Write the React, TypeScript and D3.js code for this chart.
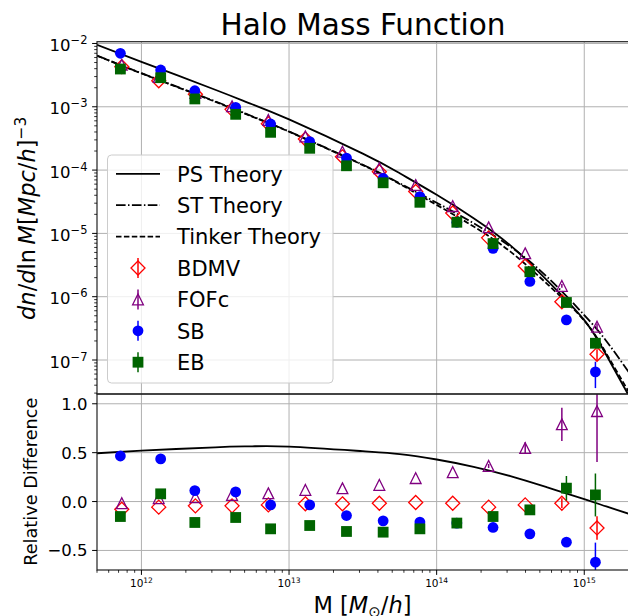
import React from 'react';
import * as d3 from 'd3';

// ---------- data ----------
const massTheory = [5.0e11, 1e12, 3.16e12, 5.62e12, 1e13, 3.16e13, 5.62e13, 1e14, 1.78e14, 3.16e14, 5.62e14, 1e15, 1.41e15, 2e15];
const psTheory = [9.55e-3, 5.13e-3, 1.86e-3, 1.096e-3, 6.31e-4, 1.82e-4, 8.91e-5, 4.07e-5, 1.74e-5, 6.46e-6, 1.8e-6, 4.27e-7, 1.2e-7, 2.75e-8];
const stTheory = [6.46e-3, 3.39e-3, 1.22e-3, 7.08e-4, 4.07e-4, 1.216e-4, 6.17e-5, 3.05e-5, 1.445e-5, 6.17e-6, 2.04e-6, 5.13e-7, 2.0e-7, 6.46e-8];
const tinkerTheory = [6.4e-3, 3.37e-3, 1.2e-3, 7.0e-4, 4.04e-4, 1.2e-4, 6.03e-5, 2.82e-5, 1.285e-5, 5.15e-6, 1.58e-6, 4.2e-7, 1.27e-7, 3.16e-8];
const psRelDiff = [0.494, 0.52, 0.555, 0.565, 0.562, 0.515, 0.485, 0.43, 0.355, 0.26, 0.145, 0.025, -0.05, -0.125];

const massA = [7.36e11, 1.31e12, 2.32e12, 4.11e12, 7.24e12, 1.29e13, 2.3e13, 4.09e13, 7.21e13, 1.285e14, 2.25e14, 3.98e14, 7.05e14, 1.22e15];
const massB = [7.2e11, 1.35e12, 2.3e12, 4.35e12, 7.5e12, 1.38e13, 2.45e13, 4.34e13, 7.7e13, 1.37e14, 2.41e14, 4.28e14, 7.57e14, 1.19e15];

const bdmvHMF = [4.3e-3, 2.57e-3, 1.58e-3, 9.1e-4, 5.4e-4, 3.1e-4, 1.62e-4, 9.4e-5, 4.6e-5, 2.1e-5, 8.5e-6, 3.05e-6, 8.3e-7, 1.23e-7];
const fofcHMF = [4.6e-3, 2.95e-3, 1.66e-3, 1.02e-3, 6.2e-4, 3.4e-4, 1.95e-4, 1.07e-4, 5.8e-5, 2.7e-5, 1.25e-5, 4.85e-6, 1.48e-6, 3.36e-7];
const sbHMF = [7.0e-3, 3.81e-3, 1.79e-3, 9.8e-4, 5.35e-4, 2.81e-4, 1.55e-4, 7.4e-5, 3.8e-5, 1.5e-5, 5.8e-6, 1.74e-6, 4.3e-7, 6.5e-8];
const ebHMF = [3.95e-3, 2.88e-3, 1.33e-3, 7.6e-4, 3.95e-4, 2.21e-4, 1.17e-4, 6.3e-5, 3.1e-5, 1.5e-5, 6.9e-6, 2.48e-6, 8.1e-7, 1.84e-7];

const bdmvHMFErr = [0, 0, 0, 0, 0, 0, 0, 0, 0, 0, 0, 0, 0.4e-7, 0.25e-7];
const fofcHMFErr = [0, 0, 0, 0, 0, 0, 0, 0, 0, 0, 0, 0, 0.1e-6, 0.4e-7];
const sbHMFErr = [0, 0, 0, 0, 0, 0, 0, 0, 0, 0, 0, 0, 0.3e-7, 2.9e-8];
const ebHMFErr = [0, 0, 0, 0, 0, 0, 0, 0, 0, 0, 0, 0, 0.5e-7, 0.2e-7];

const bdmvRel = [-0.078, -0.057, -0.044, -0.044, -0.034, -0.023, -0.023, -0.017, -0.01, -0.017, -0.057, -0.034, -0.017, -0.27];
const fofcRel = [-0.017, 0.035, 0.045, 0.068, 0.085, 0.119, 0.136, 0.17, 0.24, 0.3, 0.364, 0.547, 0.79, 0.925];
const sbRel = [0.466, 0.436, 0.112, 0.099, -0.034, -0.034, -0.143, -0.197, -0.21, -0.22, -0.265, -0.33, -0.415, -0.62];
const ebRel = [-0.153, 0.079, -0.214, -0.163, -0.279, -0.245, -0.306, -0.313, -0.279, -0.22, -0.153, -0.085, 0.137, 0.068];

const bdmvRelErr = [0, 0, 0, 0, 0, 0, 0, 0, 0, 0, 0, 0, 0.05, 0.12];
const fofcRelErr = [0, 0, 0, 0, 0, 0, 0, 0, 0, 0, 0.02, 0.06, 0.17, 0.52];
const sbRelErr = [0, 0, 0, 0, 0, 0, 0, 0, 0, 0, 0, 0.03, 0.05, 0.2];
const ebRelErr = [0, 0, 0, 0, 0, 0, 0, 0, 0, 0, 0, 0.04, 0.125, 0.22];

const yMajorExps = [-2, -3, -4, -5, -6, -7];
const xMajorExps = [12, 13, 14, 15];
const relTicks = [1.0, 0.5, 0.0, -0.5];
const relTickLabels = ['1.0', '0.5', '0.0', '\u22120.5'];

const legendLabels = ['PS Theory', 'ST Theory', 'Tinker Theory', 'BDMV', 'FOFc', 'SB', 'EB'];

// ---------- layout ----------
const W = 628, H = 616;
const X0 = 97, X1 = 628.7;
const UT = 41.7, UB = 394, LB = 570;
const FONT = 'DejaVu Sans, sans-serif';

const x = d3.scaleLog().domain([5e11, 2e15]).range([X0, X1]);
const yU = d3.scaleLog().domain([Math.pow(10, -7.537), Math.pow(10, -1.972)]).range([UB, UT]);
const yL = d3.scaleLinear().domain([-0.7, 1.1]).range([LB, UB]);

type MarkerKind = 'diamond' | 'triangle' | 'circle' | 'square';

function Marker({ kind, cx, cy, color }: { kind: MarkerKind; cx: number; cy: number; color: string }) {
  if (kind === 'circle') return <circle cx={cx} cy={cy} r={5.4} fill={color} />;
  if (kind === 'square') return <rect x={cx - 5.4} y={cy - 5.4} width={10.8} height={10.8} fill={color} />;
  if (kind === 'diamond') {
    const r = 7;
    return <path d={`M${cx},${cy - r}L${cx + r},${cy}L${cx},${cy + r}L${cx - r},${cy}Z`} fill="none" stroke={color} strokeWidth={1.3} />;
  }
  const r = 5.4;
  return <path d={`M${cx},${cy - r}L${cx + r},${cy + r}L${cx - r},${cy + r}Z`} fill="none" stroke={color} strokeWidth={1.3} />;
}

const series = [
  { name: 'BDMV', kind: 'diamond' as MarkerKind, color: '#ff0000', mass: massA, hmf: bdmvHMF, hmfErr: bdmvHMFErr, rel: bdmvRel, relErr: bdmvRelErr },
  { name: 'FOFc', kind: 'triangle' as MarkerKind, color: '#800080', mass: massA, hmf: fofcHMF, hmfErr: fofcHMFErr, rel: fofcRel, relErr: fofcRelErr },
  { name: 'SB', kind: 'circle' as MarkerKind, color: '#0000ff', mass: massB, hmf: sbHMF, hmfErr: sbHMFErr, rel: sbRel, relErr: sbRelErr },
  { name: 'EB', kind: 'square' as MarkerKind, color: '#006400', mass: massB, hmf: ebHMF, hmfErr: ebHMFErr, rel: ebRel, relErr: ebRelErr },
];

const theoryLines = [
  { name: 'PS', vals: psTheory, dash: undefined as string | undefined },
  { name: 'ST', vals: stTheory, dash: '9.6,2.4,1.5,2.4' },
  { name: 'Tinker', vals: tinkerTheory, dash: '5.5,2.4' },
];

export default function App() {
  const lineU = d3.line<[number, number]>().x(d => x(d[0])).y(d => yU(d[1])).curve(d3.curveNatural);
  const lineL = d3.line<[number, number]>().x(d => x(d[0])).y(d => yL(d[1])).curve(d3.curveNatural);

  const yMinor: number[] = [];
  for (let e = -8; e <= -2; e++) for (let k = 2; k <= 9; k++) {
    const v = k * Math.pow(10, e);
    if (v >= yU.domain()[0] && v <= yU.domain()[1]) yMinor.push(v);
  }
  const xMinor: number[] = [];
  for (let e = 11; e <= 15; e++) for (let k = 2; k <= 9; k++) {
    const v = k * Math.pow(10, e);
    if (v >= 5e11 && v <= 2e15) xMinor.push(v);
  }

  const gridColor = '#b0b0b0';
  const legendRowY = (i: number) => 173.8 + i * 31.4;

  return (
    <svg width={W} height={H} style={{ position: 'absolute', left: 0, top: 0, background: '#fff' }} fontFamily={FONT}>
      <defs>
        <clipPath id="clipU"><rect x={X0} y={UT} width={X1 - X0} height={UB - UT} /></clipPath>
        <clipPath id="clipL"><rect x={X0} y={UB} width={X1 - X0} height={LB - UB} /></clipPath>
      </defs>
      <rect x={0} y={0} width={W} height={H} fill="#fff" />

      {/* title */}
      <text x={363} y={35} textAnchor="middle" fontSize={29.5} fill="#000">Halo Mass Function</text>

      {/* grids */}
      <g stroke={gridColor} strokeWidth={1}>
        {xMajorExps.map(e => (
          <line key={'gxu' + e} x1={x(Math.pow(10, e))} x2={x(Math.pow(10, e))} y1={UT} y2={UB} />
        ))}
        {yMajorExps.map(e => (
          <line key={'gyu' + e} x1={X0} x2={X1} y1={yU(Math.pow(10, e))} y2={yU(Math.pow(10, e))} />
        ))}
        {xMajorExps.map(e => (
          <line key={'gxl' + e} x1={x(Math.pow(10, e))} x2={x(Math.pow(10, e))} y1={UB} y2={LB} />
        ))}
        {relTicks.map(v => (
          <line key={'gyl' + v} x1={X0} x2={X1} y1={yL(v)} y2={yL(v)} />
        ))}
      </g>

      {/* upper panel data */}
      <g clipPath="url(#clipU)">
        {theoryLines.map(t => (
          <path key={t.name} d={lineU(massTheory.map((m, i) => [m, t.vals[i]] as [number, number])) || ''}
            fill="none" stroke="#000" strokeWidth={1.8} strokeDasharray={t.dash} />
        ))}
        {series.map(s => (
          <g key={s.name}>
            {s.mass.map((m, i) => s.hmfErr[i] > 0 ? (
              <line key={'e' + i} x1={x(m)} x2={x(m)} y1={yU(s.hmf[i] + s.hmfErr[i])}
                y2={yU(Math.max(s.hmf[i] - s.hmfErr[i], 1e-9))} stroke={s.color} strokeWidth={1.5} />
            ) : null)}
            {s.mass.map((m, i) => <Marker key={'m' + i} kind={s.kind} cx={x(m)} cy={yU(s.hmf[i])} color={s.color} />)}
          </g>
        ))}
      </g>

      {/* lower panel data */}
      <g clipPath="url(#clipL)">
        <path d={lineL(massTheory.map((m, i) => [m, psRelDiff[i]] as [number, number])) || ''}
          fill="none" stroke="#000" strokeWidth={1.8} />
        {series.map(s => (
          <g key={s.name}>
            {s.mass.map((m, i) => s.relErr[i] > 0 ? (
              <line key={'e' + i} x1={x(m)} x2={x(m)} y1={yL(s.rel[i] + s.relErr[i])}
                y2={yL(s.rel[i] - s.relErr[i])} stroke={s.color} strokeWidth={1.5} />
            ) : null)}
            {s.mass.map((m, i) => <Marker key={'m' + i} kind={s.kind} cx={x(m)} cy={yL(s.rel[i])} color={s.color} />)}
          </g>
        ))}
      </g>

      {/* spines */}
      <g fill="none" stroke="#222" strokeWidth={1.2}>
        <rect x={X0} y={UT} width={X1 - X0} height={UB - UT} />
        <rect x={X0} y={UB} width={X1 - X0} height={LB - UB} />
      </g>

      {/* ticks */}
      <g stroke="#000" strokeWidth={1}>
        {yMajorExps.map(e => (
          <line key={'ty' + e} x1={X0 - 4.9} x2={X0} y1={yU(Math.pow(10, e))} y2={yU(Math.pow(10, e))} />
        ))}
        {yMinor.map((v, i) => (
          <line key={'tym' + i} x1={X0 - 2.8} x2={X0} y1={yU(v)} y2={yU(v)} strokeWidth={0.8} />
        ))}
        {relTicks.map(v => (
          <line key={'tyl' + v} x1={X0 - 4.9} x2={X0} y1={yL(v)} y2={yL(v)} />
        ))}
        {xMajorExps.map(e => (
          <line key={'tx' + e} x1={x(Math.pow(10, e))} x2={x(Math.pow(10, e))} y1={LB} y2={LB + 4.9} />
        ))}
        {xMinor.map((v, i) => (
          <line key={'txm' + i} x1={x(v)} x2={x(v)} y1={LB} y2={LB + 2.8} strokeWidth={0.8} />
        ))}
      </g>

      {/* tick labels */}
      <g fill="#000">
        {yMajorExps.map(e => (
          <text key={'ly' + e} x={87.5} y={yU(Math.pow(10, e)) + 7.7} textAnchor="end" fontSize={16.5}>
            10<tspan dy={-7} fontSize={11.5}>{'\u2212' + Math.abs(e)}</tspan>
          </text>
        ))}
        {relTicks.map((v, i) => (
          <text key={'lyl' + v} x={87.5} y={yL(v) + 6} textAnchor="end" fontSize={16.5}>{relTickLabels[i]}</text>
        ))}
        {xMajorExps.map(e => (
          <text key={'lx' + e} x={x(Math.pow(10, e))} y={587.3} textAnchor="middle" fontSize={10.5}>
            10<tspan dy={-4.5} fontSize={7.5}>{String(e)}</tspan>
          </text>
        ))}
      </g>

      {/* axis labels */}
      <text transform="translate(35,218.3) rotate(-90)" textAnchor="middle" fontSize={22.5} fill="#000">
        <tspan fontStyle="italic">dn</tspan>
        <tspan>/</tspan>
        <tspan fontStyle="italic">d</tspan>
        <tspan>ln</tspan>
        <tspan fontStyle="italic">{'\u2009M'}</tspan>
        <tspan>[</tspan>
        <tspan fontStyle="italic">Mpc</tspan>
        <tspan>/</tspan>
        <tspan fontStyle="italic">h</tspan>
        <tspan>]</tspan>
        <tspan dy={-9} fontSize={15.5}>{'\u22123'}</tspan>
      </text>
      <text transform="translate(37,481.7) rotate(-90)" textAnchor="middle" fontSize={17.7} fill="#000">Relative Difference</text>
      <text x={362.5} y={613} textAnchor="middle" fontSize={22.5} fill="#000">
        <tspan>{'M ['}</tspan>
        <tspan fontStyle="italic">M</tspan>
        <tspan dy={4} fontSize={15}>{'\u2299'}</tspan>
        <tspan dy={-4}>/</tspan>
        <tspan fontStyle="italic">h</tspan>
        <tspan>]</tspan>
      </text>

      {/* legend */}
      <g>
        <rect x={107.5} y={155} width={225.5} height={228} rx={4} fill="#fff" fillOpacity={0.8} stroke="#cccccc" strokeWidth={1} />
        {theoryLines.map((t, i) => (
          <line key={'lh' + i} x1={116} x2={160} y1={legendRowY(i)} y2={legendRowY(i)} stroke="#000" strokeWidth={1.8} strokeDasharray={t.dash} />
        ))}
        {series.map((s, j) => {
          const cy = legendRowY(3 + j);
          return (
            <g key={'lm' + j}>
              <line x1={138} x2={138} y1={cy - 10} y2={cy + 10} stroke={s.color} strokeWidth={1.5} />
              <Marker kind={s.kind} cx={138} cy={cy} color={s.color} />
            </g>
          );
        })}
        {legendLabels.map((l, i) => (
          <text key={'lt' + i} x={177} y={legendRowY(i) + 7.7} fontSize={21} fill="#000">{l}</text>
        ))}
      </g>
    </svg>
  );
}
